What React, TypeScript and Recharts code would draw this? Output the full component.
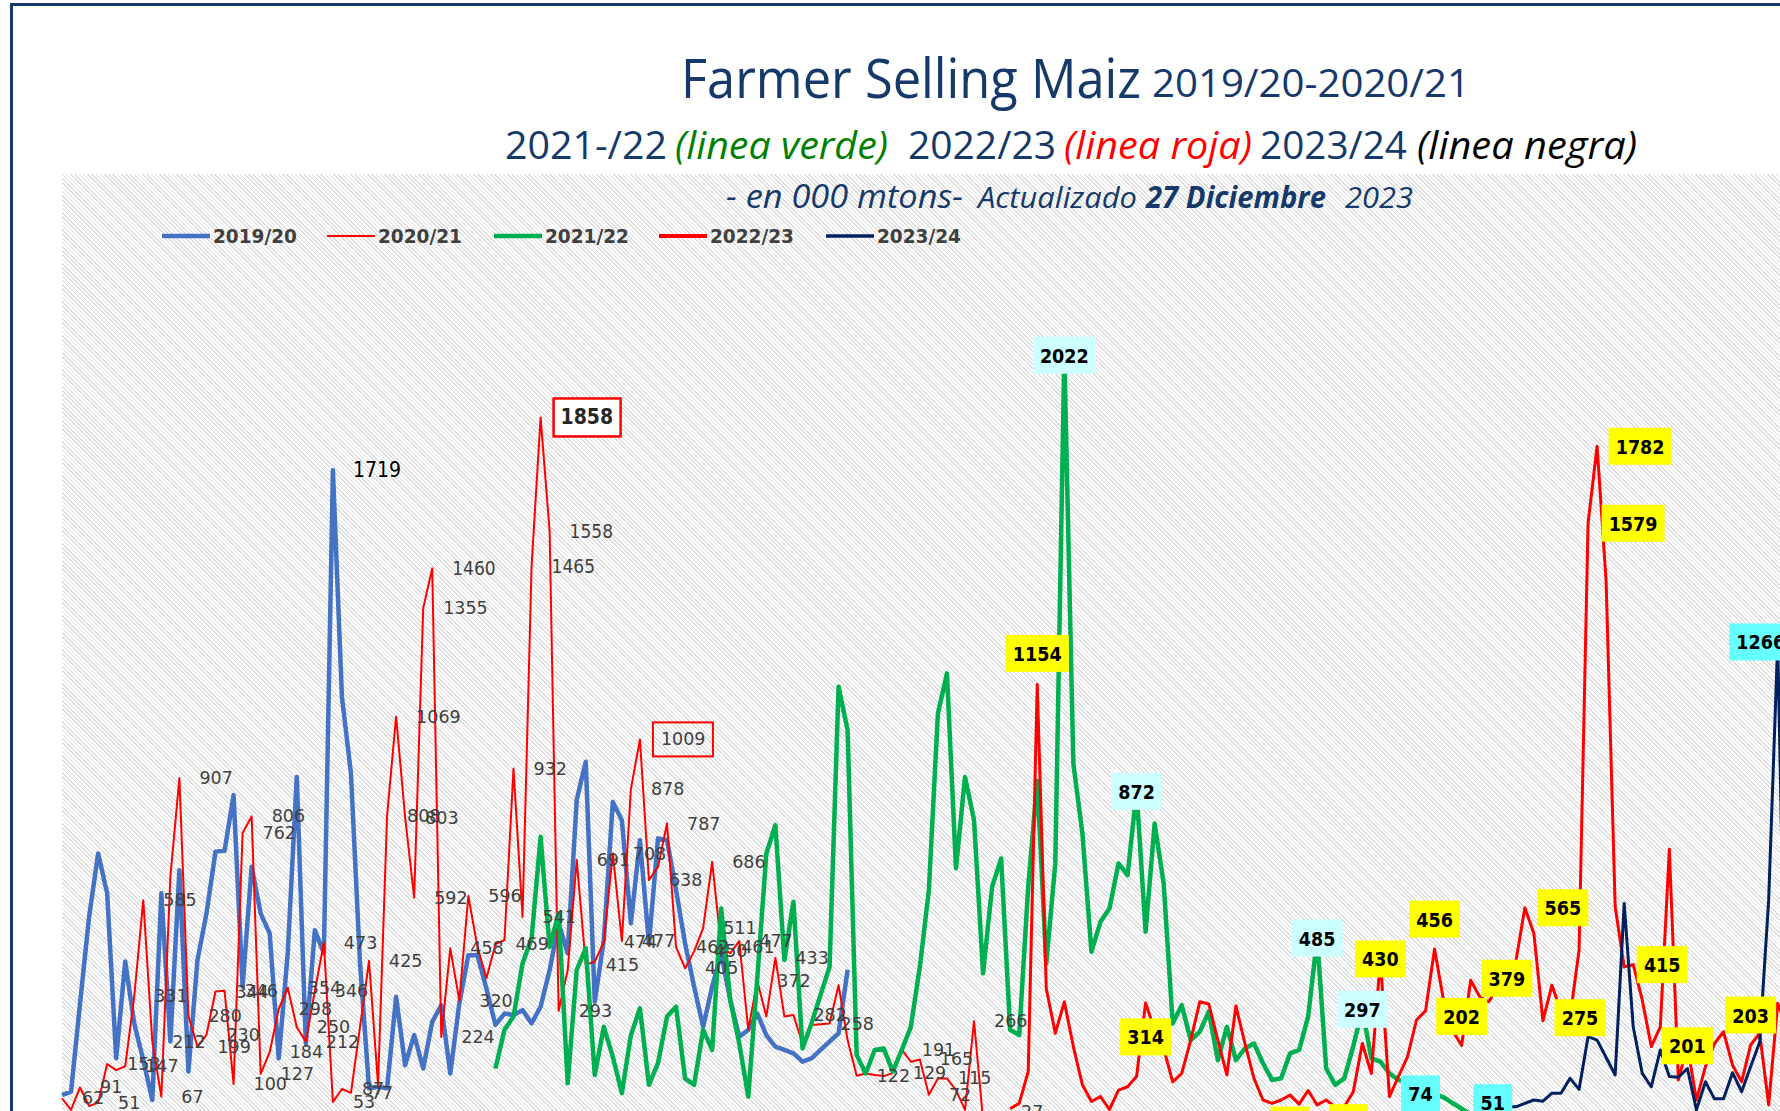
import React from "react";
import { LineChart, Line, XAxis, YAxis, LabelList } from "recharts";

// horizontal axis = week index, each campaign begins at its own week
const weeks = Array.from({ length: 192 }, (_, k) => k);

const start1920 = 0;
const ventas1920 = [
  71, 80, 313, 541, 708, 603, 168, 423, 260, 163,
  58, 603, 212, 664, 133, 427, 550, 713, 715, 862,
  357, 673, 550, 497, 168, 445, 910, 207, 506, 445,
  1719, 1121, 919, 420, 89, 93, 89, 330, 150, 229,
  141, 264, 308, 128, 313, 440, 440, 352, 256, 286,
  282, 295, 260, 304, 400, 524, 445, 849, 950, 317,
  480, 844, 796, 524, 743, 471, 748, 743, 612, 471,
  357, 251, 357, 445, 322, 225, 243, 286, 229, 199,
  190, 181, 159, 168, 190, 212, 234, 401,
];

const start2021 = 0;
const ventas2021 = [
  62, 32, 91, 42, 51, 153, 137, 147, 331, 585,
  212, 67, 647, 907, 280, 199, 230, 344, 346, 100,
  762, 806, 127, 184, 298, 354, 250, 212, 346, 473,
  53, 87, 77, 250, 425, 98, 808, 1069, 803, 592,
  1355, 1460, 224, 458, 320, 596, 462, 379, 469, 480,
  932, 541, 1465, 1858, 1558, 293, 400, 691, 415, 423,
  474, 708, 477, 878, 1009, 638, 673, 787, 462, 405,
  450, 511, 686, 461, 445, 477, 243, 372, 278, 433,
  278, 282, 207, 256, 258, 260, 361, 216, 122, 128,
  124, 121, 129, 191, 159, 165, 72, 115, 115, 84,
  32, 266, 5, 10, 27,
];

const start2122 = 48;
const ventas2122 = [
  141, 243, 278, 418, 484, 752, 462, 550, 102, 401,
  458, 124, 251, 172, 76, 229, 300, 98, 155, 278,
  304, 115, 98, 243, 190, 563, 322, 207, 67, 380,
  708, 783, 427, 581, 194, 260, 335, 409, 1148, 1033,
  177, 128, 190, 194, 133, 190, 251, 409, 612, 1077,
  1183, 669, 910, 796, 392, 620, 695, 243, 229, 620,
  900, 418, 682, 2022, 945, 761, 449, 528, 563, 682,
  651, 872, 502, 787, 629, 260, 308, 216, 238, 291,
  163, 251, 163, 194, 207, 155, 111, 115, 181, 190,
  278, 485, 141, 98, 115, 200, 297, 168, 159, 128,
  111, 106, 74, 76, 74, 65, 50, 35, 20, 10,
];

const start2223 = 105;
const ventas2223 = [
  35, 49, 133, 1154, 352, 234, 317, 199, 98, 54,
  67, 33, 84, 93, 120, 314, 243, 194, 106, 128,
  216, 317, 311, 216, 124, 306, 207, 115, 58, 49,
  58, 71, 47, 83, 45, 58, 40, 40, 80, 207,
  128, 430, 67, 120, 172, 269, 293, 456, 320, 240,
  202, 374, 330, 317, 357, 379, 423, 565, 497, 267,
  361, 290, 275, 453, 1579, 1782, 1425, 568, 409, 415,
  322, 199, 251, 719, 111, 201, 58, 146, 207, 238,
  150, 106, 203, 234, 45, 313, 250,
];

const start2324 = 158;
const ventas2324 = [
  51, 45, 40, 40, 49, 58, 55, 76, 76, 115,
  86, 225, 216, 170, 124, 576, 251, 128, 93, 190,
  120, 118, 141, 32, 106, 61, 61, 130, 80, 146,
  210, 585, 1266, 60,
];

// weeks whose value is written on the chart
const etiquetas1920 = [30];
const etiquetas2021 = [
  0, 2, 4, 5, 7, 8, 9, 10, 11, 13, 14, 15, 16, 17, 18, 19, 20, 21, 22, 23, 24,
  25, 26, 27, 28, 29, 30, 31, 32, 34, 36, 37, 38, 39, 40, 41, 42, 43, 44, 45,
  48, 50, 51, 52, 53, 54, 55, 57, 58, 60, 61, 62, 63, 64, 65, 67, 68, 69, 70,
  71, 72, 73, 75, 77, 79, 81, 84, 88, 92, 93, 95, 96, 97, 101, 104,
];
const etiquetas2122 = [111, 119, 139, 144, 150];
const etiquetas2223 = [108, 120, 136, 143, 146, 152, 155, 160, 162, 167, 169, 170, 174, 180, 187];
const etiquetas2324 = [158, 190];

type Row = { week: number; [key: string]: number };
const chartData: Row[] = weeks.map((w) => ({ week: w }));
const fillSerie = (key: string, start: number, values: number[]) =>
  values.forEach((v, k) => {
    chartData[start + k][key] = v;
  });
fillSerie("s1920", start1920, ventas1920);
fillSerie("s2021", start2021, ventas2021);
fillSerie("s2122", start2122, ventas2122);
fillSerie("s2223", start2223, ventas2223);
fillSerie("s2324", start2324, ventas2324);

const BLUE = "#4472C4";
const RED = "#FF0000";
const GREEN = "#00B050";
const NAVY_LINE = "#002060";
const NAVY = "#15396A";
const GRAY = "#404040";

const X0 = 62;
const STEP = 9.03;
const LABEL_FONT = "'DejaVu Sans', Verdana, sans-serif";
const COND_FONT = "'DejaVu Sans Condensed', 'DejaVu Sans', sans-serif";
const TITLE_FONT = "'Liberation Sans Narrow', 'Open Sans', 'DejaVu Sans Condensed', sans-serif";

const weekOf = (p: any) => Math.round((Number(p.x) - X0) / STEP);

// box label placement relative to the point: [dx, dy]
const boxShift2223: Record<number, [number, number]> = {
  108: [0, -31], 120: [0, 34], 136: [0, 30], 143: [-5, 31], 146: [0, 0],
  152: [0, -30], 155: [0, -29], 160: [0, 0], 162: [38, 0], 167: [10, 0],
  169: [45, 0], 170: [43, 0], 174: [29, 0], 180: [0, 0], 187: [0, -30],
};
const boxShift2122: Record<number, [number, number]> = { 150: [4, 0] };
const boxShift2324: Record<number, [number, number]> = { 158: [4, 0], 190: [-17, 0] };
const boxFill2122: Record<number, string> = { 150: "#66FFFF" };

const plainLabel = (list: number[]) => (p: any) => {
  const i = weekOf(p);
  if (!list.includes(i) || p.value == null || p.y == null) return null;
  const x = Number(p.x);
  const y = Number(p.y);
  if (list === etiquetas1920) {
    return (
      <text x={x + 20} y={y} dominantBaseline="central" fontFamily={COND_FONT} fontSize={21} fill="#000">
        {p.value}
      </text>
    );
  }
  if (i === 53) {
    return (
      <g>
        <rect x={x + 13} y={y - 19} width={67} height={38} fill="#fff" stroke={RED} strokeWidth={2.5} />
        <text x={x + 20} y={y} dominantBaseline="central" fontFamily={COND_FONT} fontWeight="bold" fontSize={21} fill="#262626">
          {p.value}
        </text>
      </g>
    );
  }
  if (i === 64) {
    return (
      <g>
        <rect x={x + 13} y={y - 17} width={60} height={34} fill="none" stroke={RED} strokeWidth={2} />
        <text x={x + 21} y={y} dominantBaseline="central" fontFamily={LABEL_FONT} fontSize={17.5} fill={GRAY}>
          {p.value}
        </text>
      </g>
    );
  }
  const narrow = i === 41 || i === 52 || i === 54;
  return (
    <text
      x={x + 20}
      y={y}
      dominantBaseline="central"
      fontFamily={narrow ? COND_FONT : LABEL_FONT}
      fontSize={narrow ? 19 : 17.5}
      fill={GRAY}
    >
      {p.value}
    </text>
  );
};

const boxLabel =
  (list: number[], shift: Record<number, [number, number]>, color: string, colors: Record<number, string> = {}) =>
  (p: any) => {
    const i = weekOf(p);
    if (!list.includes(i) || p.value == null || p.y == null) return null;
    const [dx, dy] = shift[i] || [0, 0];
    const cx = Number(p.x) + dx;
    const cy = Number(p.y) + dy;
    const txt = String(p.value);
    const w = txt.length * 12 + 15;
    return (
      <g>
        <rect x={cx - w / 2} y={cy - 18.5} width={w} height={37} fill={colors[i] || color} />
        <text
          x={cx}
          y={cy + 1}
          textAnchor="middle"
          dominantBaseline="central"
          fontFamily={COND_FONT}
          fontWeight="bold"
          fontSize={19.5}
          fill="#000"
        >
          {txt}
        </text>
      </g>
    );
  };

const legendItems = [
  { name: "2019/20", color: BLUE, width: 4.5, x: 162 },
  { name: "2020/21", color: RED, width: 2, x: 327 },
  { name: "2021/22", color: GREEN, width: 4.5, x: 494 },
  { name: "2022/23", color: RED, width: 4, x: 659 },
  { name: "2023/24", color: NAVY_LINE, width: 3.5, x: 826 },
];

const Titles = () => (
  <svg width={1780} height={260} style={{ position: "absolute", left: 0, top: 0 }}>
    <g fontFamily={TITLE_FONT} fill={NAVY}>
      <text x={681} y={98} fontSize={54} textLength={460} lengthAdjust="spacingAndGlyphs">
        Farmer Selling Maiz
      </text>
      <text x={1152} y={97} fontSize={39} textLength={318} lengthAdjust="spacingAndGlyphs">
        2019/20-2020/21
      </text>
      <text x={505} y={159} fontSize={39} textLength={162} lengthAdjust="spacingAndGlyphs">
        2021-/22
      </text>
      <text x={675} y={159} fontSize={39} fontStyle="italic" fill="#008000" textLength={213} lengthAdjust="spacingAndGlyphs">
        (linea verde)
      </text>
      <text x={908} y={159} fontSize={39} textLength={148} lengthAdjust="spacingAndGlyphs">
        2022/23
      </text>
      <text x={1064} y={159} fontSize={39} fontStyle="italic" fill={RED} textLength={188} lengthAdjust="spacingAndGlyphs">
        (linea roja)
      </text>
      <text x={1260} y={159} fontSize={39} textLength={147} lengthAdjust="spacingAndGlyphs">
        2023/24
      </text>
      <text x={1417} y={159} fontSize={39} fontStyle="italic" fill="#000" textLength={220} lengthAdjust="spacingAndGlyphs">
        (linea negra)
      </text>
      <text x={726} y={208} fontSize={33} fontStyle="italic" textLength={237} lengthAdjust="spacingAndGlyphs">
        - en 000 mtons-
      </text>
      <text x={978} y={208} fontSize={29} fontStyle="italic" textLength={159} lengthAdjust="spacingAndGlyphs">
        Actualizado
      </text>
      <text x={1146} y={208} fontSize={30} fontStyle="italic" fontWeight="bold" textLength={180} lengthAdjust="spacingAndGlyphs">
        27 Diciembre
      </text>
      <text x={1345} y={208} fontSize={30} fontStyle="italic" textLength={68} lengthAdjust="spacingAndGlyphs">
        2023
      </text>
    </g>
    {legendItems.map((it) => (
      <g key={it.name}>
        <line x1={it.x} x2={it.x + 48} y1={236} y2={236} stroke={it.color} strokeWidth={it.width} />
        <text
          x={it.x + 51}
          y={243}
          fontFamily={COND_FONT}
          fontWeight="bold"
          fontSize={20}
          fill={GRAY}
          textLength={84}
          lengthAdjust="spacingAndGlyphs"
        >
          {it.name}
        </text>
      </g>
    ))}
  </svg>
);

const series = [
  { key: "s1920", color: BLUE, width: 4.5 },
  { key: "s2021", color: RED, width: 2 },
  { key: "s2122", color: GREEN, width: 4.5 },
  { key: "s2223", color: RED, width: 3 },
  { key: "s2324", color: NAVY_LINE, width: 3 },
];

export default function App() {
  return (
    <div
      style={{
        position: "absolute",
        left: 0,
        top: 0,
        width: 1780,
        height: 1111,
        overflow: "hidden",
        background: "#fff",
      }}
    >
      <div
        style={{
          position: "absolute",
          left: 10,
          top: 3,
          width: 2000,
          height: 2000,
          borderTop: `3px solid ${NAVY}`,
          borderLeft: `3px solid ${NAVY}`,
        }}
      />
      <div
        style={{
          position: "absolute",
          left: 62,
          top: 174,
          width: 1718,
          height: 937,
          background: "repeating-linear-gradient(45deg, #ffffff 0px, #ffffff 1.9px, #dddddd 1.9px, #dddddd 3px)",
        }}
      />
      <div style={{ position: "absolute", left: 0, top: 0 }}>
        <LineChart width={1868} height={1122} data={chartData} margin={{ top: 174, left: 62, right: 0, bottom: 0 }}>
          <XAxis dataKey="week" type="number" domain={[0, 200]} hide />
          <YAxis type="number" domain={[0, 2500]} hide />
          {series.map((s) => (
            <Line
              key={s.key}
              type="linear"
              dataKey={s.key}
              stroke={s.color}
              strokeWidth={s.width}
              strokeLinejoin="round"
              dot={false}
              activeDot={false}
              isAnimationActive={false}
            />
          ))}
          <Line dataKey="s1920" stroke="none" dot={false} activeDot={false} isAnimationActive={false}>
            <LabelList dataKey="s1920" content={plainLabel(etiquetas1920)} />
          </Line>
          <Line dataKey="s2021" stroke="none" dot={false} activeDot={false} isAnimationActive={false}>
            <LabelList dataKey="s2021" content={plainLabel(etiquetas2021)} />
          </Line>
          <Line dataKey="s2122" stroke="none" dot={false} activeDot={false} isAnimationActive={false}>
            <LabelList dataKey="s2122" content={boxLabel(etiquetas2122, boxShift2122, "#CCFFFF", boxFill2122)} />
          </Line>
          <Line dataKey="s2223" stroke="none" dot={false} activeDot={false} isAnimationActive={false}>
            <LabelList dataKey="s2223" content={boxLabel(etiquetas2223, boxShift2223, "#FFFF00")} />
          </Line>
          <Line dataKey="s2324" stroke="none" dot={false} activeDot={false} isAnimationActive={false}>
            <LabelList dataKey="s2324" content={boxLabel(etiquetas2324, boxShift2324, "#66FFFF")} />
          </Line>
        </LineChart>
      </div>
      <Titles />
    </div>
  );
}
